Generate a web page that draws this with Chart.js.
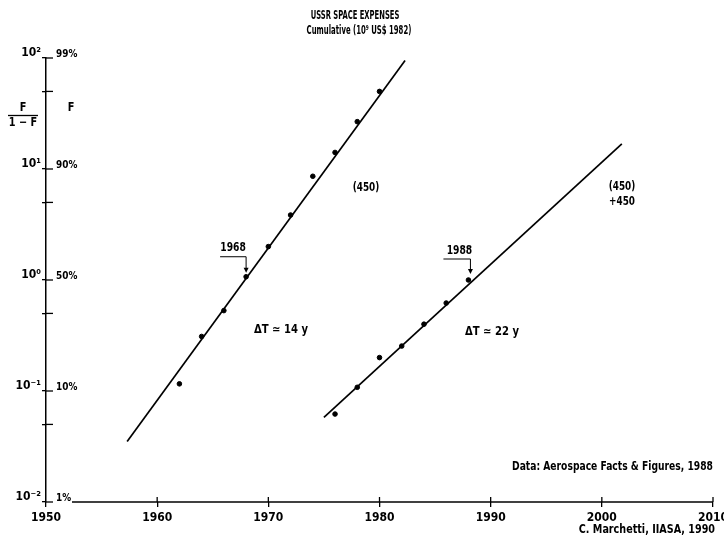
<!DOCTYPE html>
<html>
<head>
<meta charset="utf-8">
<script src="https://cdn.jsdelivr.net/npm/chart.js@4/dist/chart.umd.min.js"></script>
<style>
  html, body { margin: 0; padding: 0; background: #fff; }
</style>
</head>
<body>
<canvas id="grafico" width="724" height="547"></canvas>
<script>
// datos (F/(1-F), escala log)
const anios1 = [1962, 1964, 1966, 1968, 1970, 1972, 1974, 1976, 1978, 1980];
const valores1 = [0.116, 0.31, 0.53, 1.07, 2.0, 3.85, 8.6, 14.1, 26.7, 50];
const anios2 = [1976, 1978, 1980, 1982, 1984, 1986, 1988];
const valores2 = [0.062, 0.108, 0.20, 0.254, 0.40, 0.62, 1.0];

// rectas de ajuste (extremos)
const recta1X = [1957.3, 1982.3];
const recta1Y = [0.035, 95];
const recta2X = [1975.0, 2001.8];
const recta2Y = [0.058, 16.8];

const ticksX = [1950, 1960, 1970, 1980, 1990, 2000, 2010];
const ticksY = [0.01, 0.05, 0.1, 0.5, 1, 5, 10, 50, 100];
const etiquetasY = ['10⁻²', '', '10⁻¹', '', '10⁰', '', '10¹', '', '10²'];
const valoresF = [0.01, 0.1, 1, 10, 100];
const etiquetasF = ['1%', '10%', '50%', '90%', '99%'];

const fuente = "'Liberation Sans Narrow', 'DejaVu Sans Condensed', sans-serif";
Chart.defaults.font.family = fuente;
Chart.defaults.font.weight = 'bold';
Chart.defaults.color = '#000';

const aPuntos = (xs, ys) => xs.map((x, i) => ({ x: x, y: ys[i] }));

// texto con compresion horizontal (la fuente original es muy estrecha)
function texto(ctx, t, x, y, size, align, k) {
    ctx.save();
    ctx.font = 'bold ' + size + 'px ' + fuente;
    ctx.textAlign = align || 'center';
    ctx.textBaseline = 'middle';
    ctx.translate(x, y);
    ctx.scale(k || 1, 1);
    ctx.fillText(t, 0, 0);
    ctx.restore();
}

function flecha(ctx, p, dxTexto, dyTexto, x0, x1, yLinea, yFin, etiqueta) {
    texto(ctx, etiqueta, p.x + dxTexto, p.y + dyTexto, 12, 'center', 0.85);
    ctx.beginPath();
    ctx.moveTo(p.x + x0, p.y + yLinea);
    ctx.lineTo(p.x + x1, p.y + yLinea);
    ctx.lineTo(p.x + x1, p.y + yFin - 3);
    ctx.stroke();
    ctx.beginPath();
    ctx.moveTo(p.x + x1 - 2.5, p.y + yFin - 5);
    ctx.lineTo(p.x + x1 + 2.5, p.y + yFin - 5);
    ctx.lineTo(p.x + x1, p.y + yFin);
    ctx.closePath();
    ctx.fill();
}

const anotaciones = {
    id: 'anotaciones',
    afterDraw(chart) {
        const ctx = chart.ctx;
        const sx = chart.scales.x, sy = chart.scales.y;
        const area = chart.chartArea;
        ctx.save();
        ctx.fillStyle = '#000';
        ctx.strokeStyle = '#000';
        ctx.lineWidth = 1.3;

        // eje x (empieza despues de la etiqueta 1%)
        ctx.beginPath();
        ctx.moveTo(area.left + 26, area.bottom);
        ctx.lineTo(area.right, area.bottom);
        ctx.stroke();

        // marcas hacia dentro
        ticksY.forEach(v => {
            const y = sy.getPixelForValue(v);
            ctx.beginPath();
            ctx.moveTo(area.left, y);
            ctx.lineTo(area.left + 7, y);
            ctx.stroke();
        });
        ticksX.slice(1).forEach(v => {
            const x = sx.getPixelForValue(v);
            ctx.beginPath();
            ctx.moveTo(x, area.bottom);
            ctx.lineTo(x, area.bottom - 5);
            ctx.stroke();
        });

        // escala F a la derecha del eje
        valoresF.forEach((v, i) => {
            texto(ctx, etiquetasF[i], area.left + 10, sy.getPixelForValue(v) - 4, 11, 'left', 0.9);
        });

        // F / (1-F)
        texto(ctx, 'F', 23, 108, 12, 'center', 0.9);
        texto(ctx, '1 − F', 23, 123, 12, 'center', 0.9);
        ctx.beginPath();
        ctx.moveTo(8, 115.5);
        ctx.lineTo(38, 115.5);
        ctx.stroke();
        texto(ctx, 'F', 71, 108, 12, 'center', 0.9);

        // titulo
        texto(ctx, 'USSR SPACE EXPENSES', 355, 16, 12, 'center', 0.63);
        texto(ctx, 'Cumulative (10⁹ US$ 1982)', 359, 31, 12, 'center', 0.64);

        // textos sueltos
        texto(ctx, '(450)', 366, 188, 12, 'center', 0.82);
        texto(ctx, '(450)', 622, 187, 12, 'center', 0.82);
        texto(ctx, '+450', 622, 202, 12, 'center', 0.82);
        texto(ctx, 'ΔT ≃ 14 y', 281, 330, 12, 'center', 0.93);
        texto(ctx, 'ΔT ≃ 22 y', 492, 332, 12, 'center', 0.93);
        texto(ctx, 'Data: Aerospace Facts & Figures, 1988', 713, 467, 12, 'right', 0.85);
        texto(ctx, 'C. Marchetti, IIASA, 1990', 715, 530, 12, 'right', 0.89);

        // flechas 1968 y 1988
        ctx.lineWidth = 1;
        const p1 = { x: sx.getPixelForValue(1968), y: sy.getPixelForValue(1.07) };
        flecha(ctx, p1, -13, -29, -26, 0, -20, -4, '1968');
        const p2 = { x: sx.getPixelForValue(1988), y: sy.getPixelForValue(1.0) };
        flecha(ctx, p2, -9, -29, -25, 2, -21, -6, '1988');
        ctx.restore();
    }
};

const ctx = document.getElementById('grafico').getContext('2d');
const chart = new Chart(ctx, {
    type: 'scatter',
    data: {
        datasets: [
            {
                label: 'USSR',
                data: aPuntos(anios1, valores1),
                backgroundColor: '#000',
                borderColor: '#000',
                pointRadius: 2.3
            },
            {
                label: 'USSR +450',
                data: aPuntos(anios2, valores2),
                backgroundColor: '#000',
                borderColor: '#000',
                pointRadius: 2.3
            },
            {
                label: 'ajuste 1',
                data: aPuntos(recta1X, recta1Y),
                showLine: true,
                borderColor: '#000',
                borderWidth: 1.7,
                pointRadius: 0
            },
            {
                label: 'ajuste 2',
                data: aPuntos(recta2X, recta2Y),
                showLine: true,
                borderColor: '#000',
                borderWidth: 1.7,
                pointRadius: 0
            }
        ]
    },
    options: {
        responsive: false,
        animation: false,
        layout: { padding: { top: 58, right: 11, left: 0, bottom: 0 } },
        plugins: {
            legend: { display: false },
            tooltip: { enabled: false }
        },
        scales: {
            x: {
                type: 'linear',
                min: 1950,
                max: 2010,
                afterBuildTicks: s => { s.ticks = ticksX.map(v => ({ value: v })); },
                afterFit: s => { s.height = 45; s.paddingLeft = 0; s.paddingRight = 0; },
                border: { display: false },
                grid: { drawOnChartArea: false, tickLength: 5, color: '#000', lineWidth: 1.3 },
                ticks: { padding: 4, font: { size: 12, weight: 'bold' }, maxRotation: 0,
                         callback: v => String(v) }
            },
            y: {
                type: 'logarithmic',
                min: 0.01,
                max: 100,
                afterBuildTicks: s => { s.ticks = ticksY.map(v => ({ value: v })); },
                afterFit: s => { s.width = 46; s.paddingTop = 0; s.paddingBottom = 0; },
                border: { display: true, color: '#000', width: 1.5 },
                grid: { drawOnChartArea: false, tickLength: 4, color: '#000', lineWidth: 1.3 },
                ticks: {
                    padding: 1,
                    labelOffset: -5,
                    font: { size: 12, weight: 'bold' },
                    callback: (v, i) => etiquetasY[i]
                }
            }
        }
    },
    plugins: [anotaciones]
});
</script>
</body>
</html>
